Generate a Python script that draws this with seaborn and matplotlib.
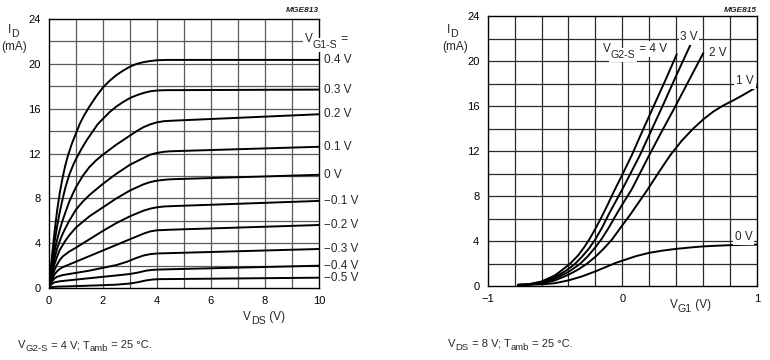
import numpy as np
import pandas as pd
import matplotlib
matplotlib.use("Agg")
import matplotlib.pyplot as plt
import seaborn as sns

# ---------------- data: left chart (ID vs VDS, per VG1-S) ----------------
vg1_labels = ["0.4 V", "0.3 V", "0.2 V", "0.1 V", "0 V",
              "\u22120.1 V", "\u22120.2 V", "\u22120.3 V", "\u22120.4 V", "\u22120.5 V"]
vds_04 = [0, 0.05, 0.1, 0.2, 0.3, 0.4, 0.5, 0.6, 0.7, 0.85, 1.0, 1.15, 1.3, 1.5, 1.75, 2.0,
          2.25, 2.5, 2.75, 3.0, 3.25, 3.5, 3.75, 4.0, 4.4, 10]
id_04 = [0, 1.3, 2.6, 4.9, 6.9, 8.5, 9.8, 10.9, 11.8, 12.9, 13.8, 14.7, 15.4, 16.2, 17.1, 17.9,
         18.5, 19.0, 19.4, 19.75, 20.0, 20.15, 20.25, 20.32, 20.35, 20.35]
vds_03 = [0, 0.05, 0.1, 0.2, 0.3, 0.4, 0.5, 0.6, 0.75, 0.9, 1.0, 1.2, 1.4, 1.6, 1.8, 2.0,
          2.25, 2.5, 2.75, 3.0, 3.25, 3.5, 3.75, 4.0, 4.3, 10]
id_03 = [0, 1.1, 2.2, 4.0, 5.5, 6.8, 7.9, 8.9, 10.1, 11.0, 11.5, 12.4, 13.2, 13.9, 14.6, 15.1,
         15.7, 16.2, 16.6, 16.95, 17.2, 17.4, 17.55, 17.62, 17.65, 17.7]
vds_02 = [0, 0.05, 0.1, 0.2, 0.3, 0.4, 0.5, 0.6, 0.75, 0.9, 1.0, 1.25, 1.5, 1.75, 2.0, 2.5,
          3.0, 3.25, 3.5, 3.75, 4.0, 4.25, 4.5, 10]
id_02 = [0, 0.9, 1.8, 3.2, 4.3, 5.2, 6.0, 6.7, 7.7, 8.5, 9.0, 10.0, 10.8, 11.4, 11.9, 12.8,
         13.6, 14.0, 14.35, 14.6, 14.78, 14.88, 14.92, 15.5]
vds_01 = [0, 0.05, 0.1, 0.2, 0.3, 0.4, 0.5, 0.6, 0.75, 1.0, 1.25, 1.5, 2.0, 2.5, 3.0, 3.5,
          3.75, 4.0, 4.25, 4.5, 10]
id_01 = [0, 0.8, 1.5, 2.6, 3.5, 4.2, 4.8, 5.3, 6.0, 7.0, 7.7, 8.3, 9.3, 10.2, 11.0, 11.6,
         11.9, 12.05, 12.15, 12.2, 12.6]
vds_00 = [0, 0.05, 0.1, 0.2, 0.3, 0.4, 0.5, 0.6, 0.75, 1.0, 1.5, 2.0, 2.5, 3.0, 3.5, 3.75,
          4.0, 4.25, 4.5, 10]
id_00 = [0, 0.6, 1.2, 2.1, 2.8, 3.4, 3.8, 4.2, 4.7, 5.4, 6.4, 7.2, 8.0, 8.7, 9.25, 9.45,
         9.58, 9.65, 9.7, 10.1]
vds_m01 = [0, 0.05, 0.1, 0.2, 0.3, 0.4, 0.5, 0.75, 1.0, 1.5, 2.0, 2.5, 3.0, 3.5, 3.75, 4.0,
           4.25, 4.5, 10]
id_m01 = [0, 0.5, 0.9, 1.6, 2.1, 2.5, 2.8, 3.25, 3.6, 4.35, 5.1, 5.8, 6.4, 6.9, 7.08, 7.2,
          7.27, 7.3, 7.77]
vds_m02 = [0, 0.05, 0.1, 0.2, 0.3, 0.4, 0.5, 0.75, 1.0, 1.5, 2.0, 2.5, 3.0, 3.5, 3.75, 4.0,
           4.5, 10]
id_m02 = [0, 0.4, 0.7, 1.2, 1.5, 1.7, 1.85, 2.1, 2.35, 2.85, 3.35, 3.85, 4.35, 4.85, 5.05,
          5.15, 5.2, 5.62]
vds_m03 = [0, 0.05, 0.1, 0.2, 0.3, 0.5, 1.0, 1.5, 2.0, 2.5, 2.9, 3.2, 3.5, 3.75, 4.0, 10]
id_m03 = [0, 0.3, 0.55, 0.85, 1.0, 1.15, 1.35, 1.55, 1.8, 2.05, 2.35, 2.65, 2.9, 3.02, 3.08, 3.48]
vds_m04 = [0, 0.05, 0.1, 0.2, 0.4, 1.0, 2.0, 2.5, 3.0, 3.3, 3.6, 3.85, 4.1, 10]
id_m04 = [0, 0.2, 0.35, 0.5, 0.6, 0.75, 1.0, 1.12, 1.25, 1.38, 1.55, 1.62, 1.65, 1.99]
vds_m05 = [0, 0.1, 0.3, 1.0, 2.0, 2.5, 3.0, 3.3, 3.6, 3.85, 4.1, 10]
id_m05 = [0, 0.08, 0.12, 0.17, 0.25, 0.3, 0.4, 0.52, 0.68, 0.76, 0.79, 0.92]
left_x = [vds_04, vds_03, vds_02, vds_01, vds_00, vds_m01, vds_m02, vds_m03, vds_m04, vds_m05]
left_y = [id_04, id_03, id_02, id_01, id_00, id_m01, id_m02, id_m03, id_m04, id_m05]

# ---------------- data: right chart (ID vs VG1, per VG2-S) ----------------
vg2_labels = ["4 V", "3 V", "2 V", "1 V", "0 V"]
vg1_4 = [-0.775, -0.7, -0.6, -0.5, -0.45, -0.39, -0.33, -0.28, -0.24, -0.2, -0.16, -0.11,
         -0.067, 0.0, 0.069, 0.15, 0.233, 0.32, 0.404]
id_4 = [0.1, 0.15, 0.4, 0.95, 1.4, 1.96, 2.7, 3.5, 4.25, 5.1, 6.0, 7.2,
        8.3, 9.9, 11.6, 13.8, 16.0, 18.3, 20.6]
vg1_3 = [-0.775, -0.7, -0.6, -0.5, -0.42, -0.352, -0.3, -0.25, -0.203, -0.15, -0.1, -0.05,
         0.0, 0.131, 0.21, 0.299, 0.4, 0.508]
id_3 = [0.1, 0.13, 0.35, 0.8, 1.35, 1.96, 2.6, 3.3, 4.1, 5.2, 6.4, 7.5,
        8.6, 11.64, 13.7, 16.0, 18.7, 21.5]
vg1_2 = [-0.775, -0.7, -0.6, -0.5, -0.4, -0.315, -0.26, -0.2, -0.153, -0.1, -0.05, 0.0,
         0.07, 0.2, 0.3, 0.395, 0.5, 0.601]
id_2 = [0.1, 0.12, 0.3, 0.65, 1.25, 1.96, 2.6, 3.45, 4.2, 5.2, 6.25, 7.25,
        8.6, 11.64, 13.9, 16.0, 18.4, 20.7]
vg1_1 = [-0.775, -0.7, -0.6, -0.5, -0.4, -0.33, -0.265, -0.2, -0.14, -0.079, 0.0, 0.05,
         0.185, 0.27, 0.354, 0.44, 0.527, 0.6, 0.675, 0.75, 0.824, 0.9, 1.0]
id_1 = [0.1, 0.12, 0.22, 0.5, 1.0, 1.45, 1.96, 2.6, 3.3, 4.1, 5.4, 6.2,
        8.53, 10.1, 11.6, 12.9, 14.0, 14.8, 15.5, 16.05, 16.5, 17.0, 17.7]
vg1_0 = [-0.775, -0.6, -0.5, -0.4, -0.3, -0.2, -0.1, -0.05, 0.0, 0.1, 0.2, 0.3, 0.4, 0.5,
         0.6, 0.7, 0.8, 0.9, 1.0]
id_0 = [0.1, 0.15, 0.25, 0.5, 0.85, 1.3, 1.8, 2.05, 2.25, 2.65, 2.95, 3.15, 3.3, 3.42,
        3.52, 3.58, 3.63, 3.66, 3.68]
right_x = [vg1_4, vg1_3, vg1_2, vg1_1, vg1_0]
right_y = [id_4, id_3, id_2, id_1, id_0]

left_ticks = [0, 2, 4, 6, 8, 10]
right_ticks = [-1, 0, 1]
right_ticklabels = ["\u22121", "0", "1"]
y_ticks = [0, 4, 8, 12, 16, 20, 24]

# ---------------- build frames ----------------
df_left = pd.concat([pd.DataFrame({"VDS": x, "ID": y, "VG1S": lab})
                     for x, y, lab in zip(left_x, left_y, vg1_labels)], ignore_index=True)
df_right = pd.concat([pd.DataFrame({"VG1": x, "ID": y, "VG2S": lab})
                      for x, y, lab in zip(right_x, right_y, vg2_labels)], ignore_index=True)

sns.set_theme(style="white")
plt.rcParams["font.family"] = ["Liberation Sans", "DejaVu Sans"]

W, H = 770, 360
fig = plt.figure(figsize=(7.7, 3.6), dpi=100)
axL = fig.add_axes([49 / W, 1 - 288 / H, 270 / W, 269 / H])
axR = fig.add_axes([487.7 / W, 1 - 286 / H, 269.3 / W, 270 / H])

fs_tick = 8
fs_lab = 8.5


def style_axes(ax, xlim, xgrid, xticks, xticklabels, gcol):
    ax.set_xlim(*xlim)
    ax.set_ylim(0, 24)
    for gx in xgrid:
        ax.axvline(gx, color=gcol, lw=0.9, zorder=0)
    for gy in np.arange(2, 24, 2):
        ax.axhline(gy, color=gcol, lw=0.9, zorder=0)
    ax.set_xticks(xticks)
    ax.set_xticklabels(xticklabels)
    ax.set_yticks(y_ticks)
    ax.set_yticklabels([str(t) for t in y_ticks])
    ax.tick_params(axis="both", length=0, labelsize=fs_tick, colors="black", pad=6)
    for s in ax.spines.values():
        s.set_color("black")
        s.set_linewidth(1.0)
    ax.set_xlabel("")
    ax.set_ylabel("")


sns.lineplot(data=df_left, x="VDS", y="ID", hue="VG1S", hue_order=vg1_labels,
             palette=["black"] * len(vg1_labels), estimator=None, sort=False,
             lw=1.4, legend=False, ax=axL, zorder=3)
style_axes(axL, (0, 10), np.arange(1, 10, 1), left_ticks,
           [str(t) for t in left_ticks], "#5a5a5a")

sns.lineplot(data=df_right, x="VG1", y="ID", hue="VG2S", hue_order=vg2_labels,
             palette=["black"] * len(vg2_labels), estimator=None, sort=False,
             lw=1.4, legend=False, ax=axR, zorder=3)
style_axes(axR, (-1, 1), np.arange(-0.8, 0.99, 0.2), right_ticks, right_ticklabels, "#2a2a2a")

bb = dict(facecolor="white", edgecolor="none", pad=1.2)


def px(x, y):
    return x / W, 1 - y / H


def rich(ax, x_px, y_px, parts, fs, sub_scale=0.85, sub_drop=2.5, bbox=None):
    """Text with subscripts; starts at pixel x, baseline at pixel y."""
    kw = dict(zorder=6)
    if bbox is not None:
        kw["bbox"] = bbox
    first = ax.text(*px(x_px, y_px), parts[0][0], transform=fig.transFigure,
                    fontsize=fs, ha="left", va="baseline", clip_on=False, **kw)
    prev = first
    for txt, sub in parts[1:]:
        if sub:
            t = ax.annotate(txt, xy=(1, 0), xycoords=(prev, first),
                            xytext=(0, -sub_drop), textcoords="offset points",
                            fontsize=fs * sub_scale, ha="left", va="bottom",
                            annotation_clip=False, **kw)
        else:
            t = ax.annotate(txt, xy=(1, 0), xycoords=(prev, first),
                            fontsize=fs, ha="left", va="bottom",
                            annotation_clip=False, **kw)
        prev = t
    return first


# ---------------- texts: left ----------------
rich(axL, 8, 33, [("I", False), ("D", True)], fs_lab, sub_scale=0.9, sub_drop=2.2)
fig.text(*px(14, 50), "(mA)", fontsize=fs_lab, ha="center", va="baseline")
fig.text(*px(319, 10), "MGE813", fontsize=6, fontstyle="italic",
         fontweight="bold", ha="right", va="center", color="#222222")
rich(axL, 305, 42, [("V", False), ("G1-S", True), (" =", False)], fs_lab,
     sub_scale=0.9, sub_drop=3.5, bbox=bb)
left_label_y = [20.35, 17.7, 15.5, 12.6, 10.1, 7.77, 5.62, 3.48, 1.99, 0.92]
for lab, yy in zip(vg1_labels, left_label_y):
    axL.text(10.2, yy, lab, fontsize=fs_lab, ha="left", va="center", clip_on=False)
rich(axL, 243, 320, [("V", False), ("DS", True), (" (V)", False)], fs_lab,
     sub_scale=0.9, sub_drop=2.2)
rich(axL, 18, 348, [("V", False), ("G2-S", True), (" = 4 V; T", False), ("amb", True),
                    (" = 25 \u00b0C.", False)], 8, sub_scale=0.85, sub_drop=2.5)

# ---------------- texts: right ----------------
rich(axR, 447, 33, [("I", False), ("D", True)], fs_lab, sub_scale=0.9, sub_drop=2.2)
fig.text(*px(455, 50), "(mA)", fontsize=fs_lab, ha="center", va="baseline")
fig.text(*px(757, 10), "MGE815", fontsize=6, fontstyle="italic",
         fontweight="bold", ha="right", va="center", color="#222222")
rich(axR, 603, 52, [("V", False), ("G2-S", True), (" = 4 V", False)], fs_lab,
     sub_scale=0.9, sub_drop=3.5, bbox=bb)
for lab, xx, yy in [("3 V", 689, 40), ("2 V", 718, 55.5), ("1 V", 745, 84), ("0 V", 743.5, 240)]:
    axR.text(*px(xx, yy), lab, transform=fig.transFigure, fontsize=fs_lab,
             ha="center", va="baseline", bbox=bb, zorder=6, clip_on=False)
rich(axR, 670, 308, [("V", False), ("G1", True), (" (V)", False)], fs_lab,
     sub_scale=0.9, sub_drop=2.2)
rich(axR, 448, 347, [("V", False), ("DS", True), (" = 8 V; T", False), ("amb", True),
                     (" = 25 \u00b0C.", False)], 8, sub_scale=0.85, sub_drop=2.5)

fig.savefig("out.png", dpi=100, facecolor="white")
